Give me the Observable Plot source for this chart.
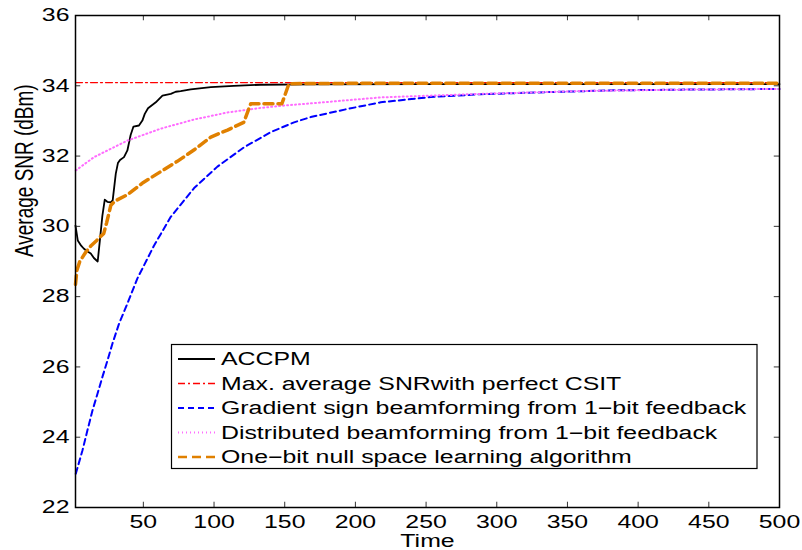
<!DOCTYPE html>
<html><head><meta charset="utf-8">
<script src="https://cdn.jsdelivr.net/npm/d3@7"></script>
<script src="https://cdn.jsdelivr.net/npm/@observablehq/plot@0.6"></script>
<style>body{margin:0;background:#fff} #chart{width:802px;height:550px}</style>
</head><body><div id="chart"></div>
<script>
const xTicks = [50, 100, 150, 200, 250, 300, 350, 400, 450, 500];
const yTicks = [22, 24, 26, 28, 30, 32, 34, 36];
const xLabel = "Time";
const yLabel = "Average SNR (dBm)";

const accpm = [
  [2, 30.02], [3.6, 29.6], [6, 29.45], [7.8, 29.37], [10, 29.3], [12.8, 29.23], [15, 29.1], [17.7, 29.0],
  [19.5, 29.7], [21, 30.3], [22.7, 30.76], [24.5, 30.7], [26.9, 30.68], [28.3, 30.74], [30.5, 31.5],
  [32, 31.8], [33.5, 31.89], [36.3, 31.97], [38.7, 32.16], [41, 32.6], [43, 32.84], [46.9, 32.87],
  [49.3, 33.01], [51, 33.2], [53.3, 33.36], [58.8, 33.53], [63.5, 33.72], [69.4, 33.77], [72.9, 33.83],
  [76.4, 33.85], [83.5, 33.9], [97.7, 33.96], [113.9, 34.0], [133, 34.03], [168.4, 34.04], [250, 34.05],
  [350, 34.05], [500, 34.05]
];
const perfectCsit = [[2, 34.09], [500, 34.09]];
const gradientSign = [
  [2.2, 22.96], [6.9, 23.62], [10.4, 24.19], [14, 24.76], [17.5, 25.23], [21, 25.71], [24.6, 26.18],
  [28.1, 26.66], [32.8, 27.23], [38.7, 27.8], [45.8, 28.52], [57.5, 29.45], [69.4, 30.27], [85.9, 31.09],
  [102.4, 31.7], [121.2, 32.25], [140.1, 32.68], [156.6, 32.96], [168.4, 33.11], [194.4, 33.34],
  [217.9, 33.53], [253.3, 33.68], [288.7, 33.76], [335.9, 33.82], [383, 33.87], [430, 33.89], [500, 33.91]
];
const distributed = [
  [2.2, 31.59], [15.1, 31.97], [38.7, 32.44], [62.3, 32.78], [85.9, 33.04], [109.5, 33.24], [133, 33.37],
  [150, 33.44], [168.4, 33.5], [217.9, 33.67], [288.7, 33.77], [359.4, 33.85], [430, 33.89], [500, 33.91]
];
const oneBitNull = [
  [2, 28.35], [3, 28.75], [5, 29.0], [9, 29.25], [13, 29.45], [17, 29.6], [22, 29.8], [24, 30.1],
  [27, 30.6], [30, 30.72], [38.7, 30.9], [50, 31.25], [62, 31.55], [74, 31.85], [86, 32.18], [97.7, 32.54],
  [109.5, 32.74], [121, 32.96], [126, 33.49], [148, 33.49], [153, 34.06], [200, 34.07], [500, 34.07]
];

const seriesNames = [
  "ACCPM",
  "Max. average SNRwith perfect CSIT",
  "Gradient sign beamforming from 1\u2212bit feedback",
  "Distributed beamforming from 1\u2212bit feedback",
  "One\u2212bit null space learning algorithm"
];
const seriesData = [accpm, perfectCsit, gradientSign, distributed, oneBitNull];
const seriesColors = ["#000000", "#ff0000", "#0000ff", "#ff6cff", "#e08000"];
const seriesWidths = [1.8, 1.3, 2, 2, 3.5];
const seriesDash = ["none", "7,3,2,3", "6,4", "1,3", "9,5"];

const FONT = "'Liberation Sans', Arial, Helvetica, sans-serif";
const SX = 1.38;

const plot = Plot.plot({
  width: 802, height: 550,
  marginLeft: 75, marginRight: 23, marginTop: 15, marginBottom: 43,
  style: {fontFamily: FONT, fontSize: "18px", background: "white", color: "black"},
  x: {domain: [2, 500]},
  y: {domain: [22, 36]},
  marks: [
    ...seriesData.map((d, i) => Plot.line(d, {
      x: p => p[0], y: p => p[1], stroke: seriesColors[i], strokeWidth: seriesWidths[i],
      strokeDasharray: seriesDash[i], strokeLinejoin: "round"
    })),
    Plot.ruleX(xTicks, {x: d => d, y1: 22, y2: 22.15, stroke: "#333", strokeWidth: 1}),
    Plot.ruleX(xTicks, {x: d => d, y1: 35.85, y2: 36, stroke: "#333", strokeWidth: 1}),
    Plot.ruleY(yTicks, {y: d => d, x1: 2, x2: 5.7, stroke: "#333", strokeWidth: 1}),
    Plot.ruleY(yTicks, {y: d => d, x1: 496.3, x2: 500, stroke: "#333", strokeWidth: 1}),
    Plot.axisX(xTicks, {tickSize: 0, tickPadding: 8, label: null, fontSize: 18}),
    Plot.axisY(yTicks, {tickSize: 0, tickPadding: 6, label: null, fontSize: 18}),
    Plot.frame({stroke: "black", strokeWidth: 1.5}),
    Plot.text([xLabel], {text: d => d, frameAnchor: "bottom", dy: 34, lineAnchor: "middle", fontSize: 18}),
    Plot.text([yLabel], {text: d => d, frameAnchor: "left", rotate: -90, dx: -51, dy: -4.5, lineAnchor: "middle", fontSize: 19})
  ]
});

const svg = d3.select(plot);
// horizontal stretch of glyphs (the reference figure is widened)
svg.selectAll("text").each(function() {
  const el = d3.select(this);
  let tr = el.attr("transform") || "";
  const x = el.attr("x");
  if (x != null && isFinite(+x)) {
    tr += ` translate(${+x},0)`;
    el.attr("x", null);
  }
  if (/rotate\(/.test(tr)) tr = tr.replace("rotate(", `scale(${SX},1) rotate(`);
  else tr += ` scale(${SX},1)`;
  el.attr("transform", tr.trim());
});

// legend
const lg = svg.append("g").attr("font-family", FONT).attr("font-size", 18).attr("text-anchor", "start");
lg.append("rect").attr("x", 171.5).attr("y", 344.5).attr("width", 585.5).attr("height", 124)
  .attr("fill", "white").attr("stroke", "black").attr("stroke-width", 1.2);
seriesNames.forEach((name, i) => {
  const y = 359 + i * 24.5;
  lg.append("line").attr("x1", 178).attr("x2", 215).attr("y1", y).attr("y2", y)
    .attr("stroke", seriesColors[i]).attr("stroke-width", Math.min(Math.max(seriesWidths[i], 1.6), 2.5))
    .attr("stroke-dasharray", seriesDash[i]);
  lg.append("text").attr("transform", `translate(221,${y}) scale(${SX},1)`).attr("dy", "0.35em")
    .attr("text-anchor", "start").attr("fill", "black").text(name);
});

document.getElementById("chart").appendChild(plot);
</script>
</body></html>
